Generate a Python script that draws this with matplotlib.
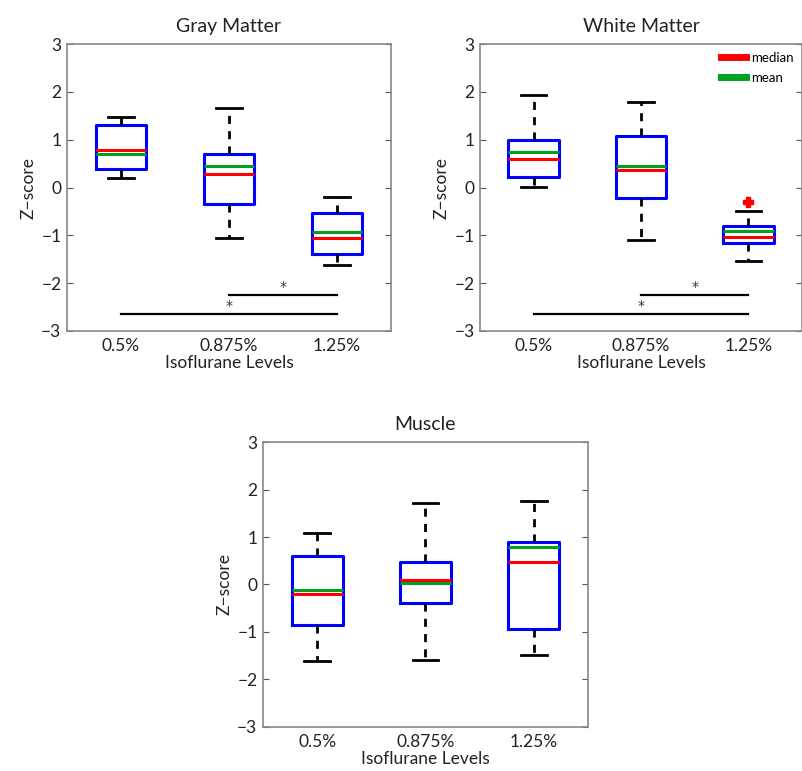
import numpy as np
import matplotlib.pyplot as plt
from matplotlib.lines import Line2D

plt.rcParams['font.family'] = ['Lato', 'DejaVu Sans']

# niveles de isoflurano
niveles = ['0.5%', '0.875%', '1.25%']

# Gray Matter: estadisticas de cada caja
gm_whishi = [1.47, 1.67, -0.20]
gm_q3 = [1.31, 0.70, -0.54]
gm_med = [0.79, 0.29, -1.06]
gm_mean = [0.70, 0.45, -0.94]
gm_q1 = [0.38, -0.34, -1.39]
gm_whislo = [0.20, -1.06, -1.61]
gm_fliers = [[], [], []]

# White Matter
wm_whishi = [1.93, 1.78, -0.50]
wm_q3 = [1.00, 1.07, -0.80]
wm_med = [0.60, 0.36, -1.04]
wm_mean = [0.75, 0.46, -0.91]
wm_q1 = [0.21, -0.22, -1.17]
wm_whislo = [0.01, -1.10, -1.53]
wm_fliers = [[], [], [-0.30]]

# Muscle
mu_whishi = [1.09, 1.72, 1.76]
mu_q3 = [0.61, 0.47, 0.90]
mu_med = [-0.20, 0.09, 0.47]
mu_mean = [-0.12, 0.04, 0.78]
mu_q1 = [-0.85, -0.40, -0.94]
mu_whislo = [-1.61, -1.58, -1.48]
mu_fliers = [[], [], []]

# comparaciones significativas (pares de grupos y altura de la barra)
sig_pares = [(2, 3), (1, 3)]
sig_alturas = [-2.25, -2.65]


def armar_stats(whishi, q3, med, mean, q1, whislo, fliers):
    stats = []
    for i in range(len(med)):
        stats.append(dict(whishi=whishi[i], q3=q3[i], med=med[i], mean=mean[i],
                          q1=q1[i], whislo=whislo[i], fliers=fliers[i]))
    return stats


def graficar(ax, stats, titulo, significancia=False, leyenda=False):
    ax.bxp(stats, positions=[1, 2, 3], widths=0.47, showmeans=True, meanline=True,
           boxprops=dict(color='#0000ff', linewidth=2.2),
           medianprops=dict(color='#ff0000', linewidth=2.2),
           meanprops=dict(color='#00a020', linestyle='-', linewidth=2.2),
           whiskerprops=dict(color='black', linewidth=2.0, linestyle=(0, (2.9, 2.6))),
           capprops=dict(color='black', linewidth=2.0),
           flierprops=dict(marker='P', markerfacecolor='#ff0000', markeredgecolor='#ff0000',
                           markersize=7))
    ax.set_xlim(0.5, 3.5)
    ax.set_ylim(-3, 3)
    ax.set_yticks(np.arange(-3, 4, 1))
    ax.set_xticks([1, 2, 3])
    ax.set_xticklabels(niveles)
    ax.tick_params(axis='y', direction='in', length=4, right=True, color='#555555',
                   labelsize=12.5, pad=4, labelcolor='#222222')
    ax.tick_params(axis='x', length=0, labelsize=12.5, pad=5, labelcolor='#222222')
    for sp in ax.spines.values():
        sp.set_color('#888888')
        sp.set_linewidth(1.2)
    ax.set_title(titulo, fontsize=14, pad=9, color='#222222')
    ax.set_xlabel('Isoflurane Levels', fontsize=12.5, labelpad=1, color='#222222')
    ax.set_ylabel('Z\u2212score', fontsize=12.5, labelpad=3, color='#222222')

    if significancia:
        for (a, b), h in zip(sig_pares, sig_alturas):
            ax.plot([a, b], [h, h], color='black', linewidth=1.6)
            ax.text((a + b) / 2, h + 0.03, '*', ha='center', va='bottom', fontsize=10,
                    color='#333333', family='DejaVu Sans')

    if leyenda:
        marcas = [Line2D([0], [0], color='#ff0000', linewidth=5),
                  Line2D([0], [0], color='#00a020', linewidth=5)]
        ax.legend(marcas, ['median', 'mean'], loc='upper right', frameon=False,
                  fontsize=9.5, handlelength=1.9, handletextpad=0.4, labelspacing=0.6,
                  borderaxespad=0.2)


fig = plt.figure(figsize=(8.03, 7.71), dpi=100)

ax1 = fig.add_axes([0.0834, 0.5707, 0.4035, 0.3722])
graficar(ax1, armar_stats(gm_whishi, gm_q3, gm_med, gm_mean, gm_q1, gm_whislo, gm_fliers),
         'Gray Matter', significancia=True)

ax2 = fig.add_axes([0.5978, 0.5707, 0.4010, 0.3722])
graficar(ax2, armar_stats(wm_whishi, wm_q3, wm_med, wm_mean, wm_q1, wm_whislo, wm_fliers),
         'White Matter', significancia=True, leyenda=True)

ax3 = fig.add_axes([0.3275, 0.0571, 0.4047, 0.3696])
graficar(ax3, armar_stats(mu_whishi, mu_q3, mu_med, mu_mean, mu_q1, mu_whislo, mu_fliers),
         'Muscle')

fig.savefig('out.png', dpi=100)
